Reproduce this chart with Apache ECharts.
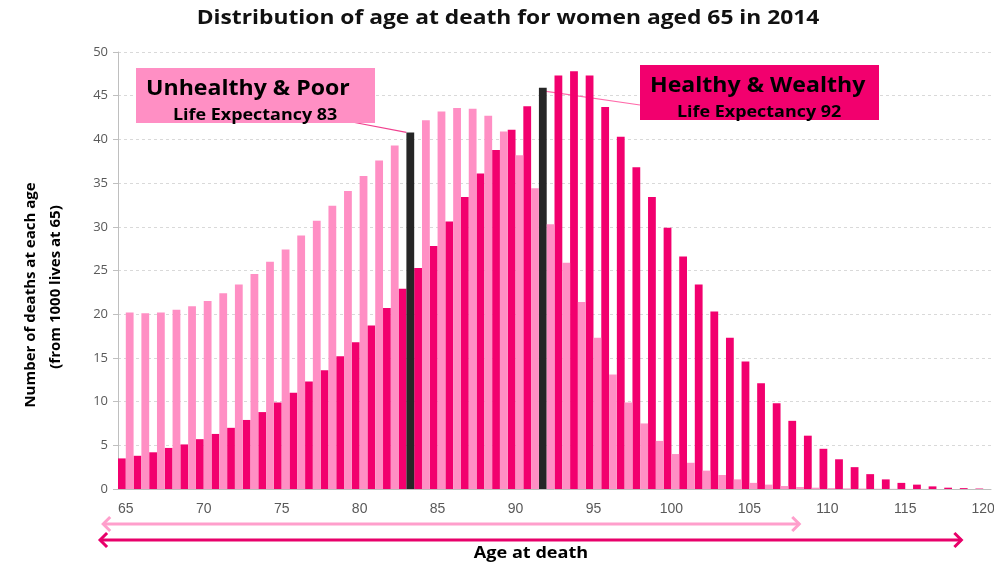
<!DOCTYPE html>
<html>
<head>
<meta charset="UTF-8">
<script src="https://cdn.jsdelivr.net/npm/echarts@6/dist/echarts.min.js"></script>
<style>
  body { margin: 0; background: #fff; overflow: hidden; }
  #chart { width: 994px; height: 563px; }
</style>
</head>
<body>
<div id="chart"></div>
<script>
// Ages 65..120
const AGES = ['65','66','67','68','69','70','71','72','73','74','75','76','77','78','79',
  '80','81','82','83','84','85','86','87','88','89','90','91','92','93','94','95','96','97',
  '98','99','100','101','102','103','104','105','106','107','108','109','110','111','112',
  '113','114','115','116','117','118','119','120']

// Deaths at each age per 1000 lives at 65 - healthy & wealthy
const HEALTHY = [3.5, 3.8, 4.2, 4.7, 5.1, 5.7, 6.3, 7.0, 7.9, 8.8,
  9.9, 11.0, 12.3, 13.6, 15.2, 16.8, 18.7, 20.7, 22.9, 25.3,
  27.8, 30.6, 33.4, 36.1, 38.8, 41.1, 43.8, 45.9, 47.3, 47.8,
  47.3, 43.7, 40.3, 36.8, 33.4, 29.9, 26.6, 23.4, 20.3, 17.3,
  14.6, 12.1, 9.8, 7.8, 6.1, 4.6, 3.4, 2.5, 1.7, 1.1,
  0.7, 0.5, 0.3, 0.15, 0.1, 0.05]

// Unhealthy & poor
const UNHEALTHY = [20.2, 20.1, 20.2, 20.5, 20.9, 21.5, 22.4, 23.4, 24.6, 26.0,
  27.4, 29.0, 30.7, 32.4, 34.1, 35.8, 37.6, 39.3, 40.8, 42.2,
  43.2, 43.6, 43.5, 42.7, 40.9, 38.2, 34.4, 30.3, 25.9, 21.4,
  17.3, 13.1, 9.9, 7.5, 5.5, 4.0, 3.0, 2.1, 1.6, 1.1,
  0.7, 0.5, 0.34, 0.23, 0.15, 0.1, 0.07, 0.05, 0.03, 0.02,
  0.01, 0.01, 0, 0, 0, 0]

const LIFE_EXP_UNHEALTHY = '83'
const LIFE_EXP_HEALTHY = '92'

const PINK = '#ff8fc4'
const MAGENTA = '#f2006e'
const DARK = '#262626'
const FONT = '"Open Sans", sans-serif'

function markBar(values, age) {
  return values.map((v, i) => AGES[i] === age ? { value: v, itemStyle: { color: DARK } } : v)
}

const chart = echarts.init(document.getElementById('chart'))

chart.setOption({
  animation: false,
  grid: { left: 118, right: 3, top: 52, bottom: 74, outerBoundsMode: 'none' },
  xAxis: {
    type: 'category',
    data: AGES,
    axisLine: { lineStyle: { color: '#bfbfbf' } },
    axisTick: { interval: 0, length: 5, lineStyle: { color: '#bfbfbf' } },
    axisLabel: { interval: 4, color: '#595959', fontSize: 14, fontFamily: '"Liberation Sans Narrow", "Liberation Sans", sans-serif', margin: 13 }
  },
  yAxis: {
    type: 'value',
    min: 0, max: 50, interval: 5,
    axisLine: { show: true, lineStyle: { color: '#bfbfbf' } },
    axisTick: { show: true, length: 5, lineStyle: { color: '#bfbfbf' } },
    axisLabel: { color: '#595959', fontSize: 13, fontFamily: '"Open Sans", sans-serif', margin: 10 },
    splitLine: { lineStyle: { color: '#d9d9d9', type: [3, 3] } }
  },
  series: [
    {
      type: 'bar',
      data: markBar(HEALTHY, LIFE_EXP_HEALTHY),
      itemStyle: { color: MAGENTA },
      barGap: '0%',
      barCategoryGap: '0%'
    },
    {
      type: 'bar',
      data: markBar(UNHEALTHY, LIFE_EXP_UNHEALTHY),
      itemStyle: { color: PINK },
      barGap: '0%',
      barCategoryGap: '0%'
    }
  ]
})

// Annotations: positions derived from the axes
const step = chart.convertToPixel({ xAxisIndex: 0 }, 1) - chart.convertToPixel({ xAxisIndex: 0 }, 0)
const xAt = idx => chart.convertToPixel({ xAxisIndex: 0 }, 0) + idx * step
const yAt = v => chart.convertToPixel({ yAxisIndex: 0 }, v)

const iU = AGES.indexOf(LIFE_EXP_UNHEALTHY)
const iH = AGES.indexOf(LIFE_EXP_HEALTHY)
const uTop = [xAt(iU), yAt(UNHEALTHY[iU])]
const hTop = [xAt(iH) - step / 4, yAt(HEALTHY[iH])]

function arrow(x1, x2, y, color) {
  const h = 7
  return [
    { type: 'line', shape: { x1: x1, y1: y, x2: x2, y2: y }, style: { stroke: color, lineWidth: 3 } },
    { type: 'polyline', shape: { points: [[x1 + h, y - h], [x1, y], [x1 + h, y + h]] }, style: { stroke: color, lineWidth: 3, fill: null } },
    { type: 'polyline', shape: { points: [[x2 - h, y - h], [x2, y], [x2 - h, y + h]] }, style: { stroke: color, lineWidth: 3, fill: null } }
  ]
}

// bold text, stretched a little wider like the original
function label(txt, x, y, size, sx, extra) {
  return {
    type: 'text', x: x, y: y, scaleX: sx,
    style: Object.assign({
      text: txt, fontFamily: FONT, fontWeight: 'bold', fontSize: size, fill: '#000', verticalAlign: 'middle'
    }, extra || {})
  }
}

chart.setOption({
  graphic: [
    label('Distribution of age at death for women aged 65 in 2014', 508, 19, 19, 1.2, { fill: '#111', align: 'center' }),
    // y axis name
    Object.assign(label('Number of deaths at each age', 31, 295, 15, 1, { align: 'center' }), { rotation: Math.PI / 2 }),
    Object.assign(label('(from 1000 lives at 65)', 56, 287, 15, 1, { align: 'center' }), { rotation: Math.PI / 2 }),
    // x axis name
    label('Age at death', 531, 553, 16, 1.13, { align: 'center' }),
    // leader lines
    { type: 'line', shape: { x1: 352, y1: 122, x2: uTop[0], y2: uTop[1] }, style: { stroke: '#f0408e', lineWidth: 1.2 } },
    { type: 'line', shape: { x1: 640, y1: 105, x2: hTop[0], y2: hTop[1] + 3 }, style: { stroke: '#ff6aaa', lineWidth: 1.2 } },
    // boxes
    { type: 'rect', shape: { x: 136, y: 68, width: 239, height: 55 }, style: { fill: PINK } },
    label('Unhealthy & Poor', 146, 89, 21, 1.1),
    label('Life Expectancy 83', 173, 115, 16, 1.12),
    { type: 'rect', shape: { x: 640, y: 65, width: 239, height: 55 }, style: { fill: MAGENTA } },
    label('Healthy & Wealthy', 650, 86, 21, 1.1),
    label('Life Expectancy 92', 677, 112, 16, 1.12)
  ]
    .concat(arrow(xAt(-1.45), xAt(43.2), 524, '#ff9fcc'))
    .concat(arrow(xAt(-1.65), xAt(53.6), 540, '#e8006a'))
})
</script>
</body>
</html>
